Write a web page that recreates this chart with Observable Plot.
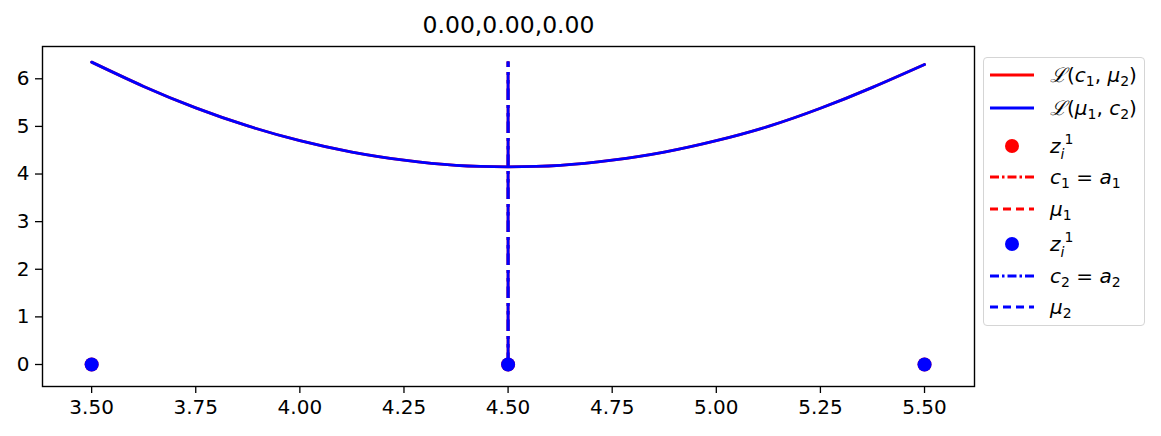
<!DOCTYPE html>
<html>
<head>
<meta charset="utf-8">
<script src="https://cdn.jsdelivr.net/npm/d3@7"></script>
<script src="https://cdn.jsdelivr.net/npm/@observablehq/plot@0.6"></script>
<style>
  html, body { margin: 0; padding: 0; background: #fff; }
  #wrap { position: relative; width: 1161px; height: 436px; font-family: "DejaVu Sans", sans-serif; }
  #legend { position: absolute; left: 983px; top: 57px; width: 160px; height: 267px;
            border: 1.3px solid #d5d5d5; border-radius: 4px; background: rgba(255,255,255,0.8); }
  .row { position: absolute; left: 0; height: 30px; display: flex; align-items: center; transform: translateY(-50%); }
  .row svg { margin-left: 6px; }
  .lbl { position: absolute; left: 66px; white-space: nowrap; font-size: 20px; line-height: 24px; color: #000; }
  .lbl i { font-family: "DejaVu Sans", sans-serif; font-style: italic; }
  .lbl sub { font-size: 14px; font-style: normal; vertical-align: -4px; line-height: 14px; }
  .lbl sub.it { font-style: italic; vertical-align: -6px; }
  .lbl sup { font-size: 14px; vertical-align: 9px; line-height: 14px; margin-left: 0px; }
  .cal { font-family: "DejaVu Serif", serif; font-style: italic; }
</style>
</head>
<body>
<div id="wrap"></div>
<script>
// ---- data ----
const titleText = "0.00,0.00,0.00";
const curveX = [3.5, 3.625, 3.75, 3.875, 4.0, 4.125, 4.25, 4.375, 4.5, 4.625, 4.75, 4.875, 5.0, 5.125, 5.25, 5.375, 5.5];
const curve1Y = [6.35, 5.84, 5.39, 5.01, 4.70, 4.46, 4.29, 4.18, 4.15, 4.18, 4.29, 4.46, 4.70, 5.00, 5.38, 5.82, 6.30]; // L(c1, mu2), red
const curve2Y = [6.35, 5.84, 5.39, 5.01, 4.70, 4.46, 4.29, 4.18, 4.15, 4.18, 4.29, 4.46, 4.70, 5.00, 5.38, 5.82, 6.30]; // L(mu1, c2), blue
const points1X = [3.5, 4.5, 5.5];
const points1Y = [0, 0, 0];
const points2X = [3.5, 4.5, 5.5];
const points2Y = [0, 0, 0];
const c1 = 4.5, mu1 = 4.5, c2 = 4.5, mu2 = 4.5;
const vlineBottom = 0, vlineTop = 6.35;
const xTicks = [3.5, 3.75, 4.0, 4.25, 4.5, 4.75, 5.0, 5.25, 5.5];
const yTicks = [0, 1, 2, 3, 4, 5, 6];
const xDomain = [3.382, 5.62];
const yDomain = [-0.462, 6.678];

const RED = "#ff0000", BLUE = "#0000ff";
const LW = 2.8;
const DASHDOT = "20,5,3,5";
const DASHED = "11.5,5";

const c1Data = curveX.map((x, i) => ({x, y: curve1Y[i]}));
const c2Data = curveX.map((x, i) => ({x, y: curve2Y[i]}));
const p1 = points1X.map((x, i) => ({x, y: points1Y[i]}));
const p2 = points2X.map((x, i) => ({x, y: points2Y[i]}));
const vline = (x) => [{x, y1: vlineBottom, y2: vlineTop}];

const chart = Plot.plot({
  width: 1161,
  height: 436,
  marginLeft: 42,
  marginRight: 187,
  marginTop: 46,
  marginBottom: 50,
  style: {fontFamily: "DejaVu Sans, sans-serif", fontSize: "20px", background: "#fff", color: "#000"},
  x: {domain: xDomain},
  y: {domain: yDomain},
  marks: [
    Plot.line(c1Data, {x: "x", y: "y", stroke: RED, strokeWidth: LW, curve: "natural"}),
    Plot.line(c2Data, {x: "x", y: "y", stroke: BLUE, strokeWidth: LW, curve: "natural"}),
    Plot.dot(p1, {x: "x", y: "y", r: 7, fill: RED, stroke: "none"}),
    Plot.ruleX(vline(c1), {x: "x", y1: "y1", y2: "y2", stroke: RED, strokeWidth: LW, strokeDasharray: DASHDOT}),
    Plot.ruleX(vline(mu1), {x: "x", y1: "y1", y2: "y2", stroke: RED, strokeWidth: LW, strokeDasharray: DASHED}),
    Plot.dot(p2, {x: "x", y: "y", r: 7, fill: BLUE, stroke: "none"}),
    Plot.ruleX(vline(c2), {x: "x", y1: "y1", y2: "y2", stroke: BLUE, strokeWidth: LW, strokeDasharray: DASHDOT}),
    Plot.ruleX(vline(mu2), {x: "x", y1: "y1", y2: "y2", stroke: BLUE, strokeWidth: LW, strokeDasharray: DASHED}),
    Plot.frame({stroke: "#000", strokeWidth: 1.4}),
    Plot.axisX({ticks: xTicks, tickFormat: d3.format(".2f"), tickSize: 7, tickPadding: 6, fontSize: 20, label: null, strokeWidth: 1.3}),
    Plot.axisY({ticks: yTicks, tickFormat: d3.format("d"), tickSize: 7, tickPadding: 6, fontSize: 20, label: null, strokeWidth: 1.3}),
    Plot.text([titleText], {text: d => d, frameAnchor: "top", dy: -21, lineAnchor: "middle", fontSize: 23.5})
  ]
});
document.getElementById("wrap").appendChild(chart);

// ---- legend (HTML overlay) ----
const zLabel = '<i>z</i><sub class="it">i</sub><sup>1</sup>';
const legendItems = [
  {kind: "line", color: RED, dash: null, html: '<span class="cal">ℒ</span>(<i>c</i><sub>1</sub>, <i>μ</i><sub>2</sub>)', y: 17},
  {kind: "line", color: BLUE, dash: null, html: '<span class="cal">ℒ</span>(<i>μ</i><sub>1</sub>, <i>c</i><sub>2</sub>)', y: 50},
  {kind: "dot", color: RED, html: zLabel, y: 88},
  {kind: "line", color: RED, dash: "9,3,2.5,3", html: '<i>c</i><sub>1</sub> = <i>a</i><sub>1</sub>', y: 119},
  {kind: "line", color: RED, dash: "8,5", html: '<i>μ</i><sub>1</sub>', y: 151},
  {kind: "dot", color: BLUE, html: zLabel, y: 186},
  {kind: "line", color: BLUE, dash: "9,3,2.5,3", html: '<i>c</i><sub>2</sub> = <i>a</i><sub>2</sub>', y: 218},
  {kind: "line", color: BLUE, dash: "8,5", html: '<i>μ</i><sub>2</sub>', y: 249}
];
const legend = document.createElement("div");
legend.id = "legend";
for (const it of legendItems) {
  const row = document.createElement("div");
  row.className = "row";
  row.style.top = it.y + "px";
  row.style.width = "160px";
  let sw;
  if (it.kind === "line") {
    sw = `<svg width="44" height="14"><line x1="0" x2="44" y1="7" y2="7" stroke="${it.color}" stroke-width="${LW}"${it.dash ? ` stroke-dasharray="${it.dash}"` : ""}/></svg>`;
  } else {
    sw = `<svg width="44" height="16"><circle cx="22" cy="8" r="7" fill="${it.color}"/></svg>`;
  }
  row.innerHTML = sw + `<span class="lbl">${it.html}</span>`;
  legend.appendChild(row);
}
document.getElementById("wrap").appendChild(legend);
</script>
</body>
</html>
